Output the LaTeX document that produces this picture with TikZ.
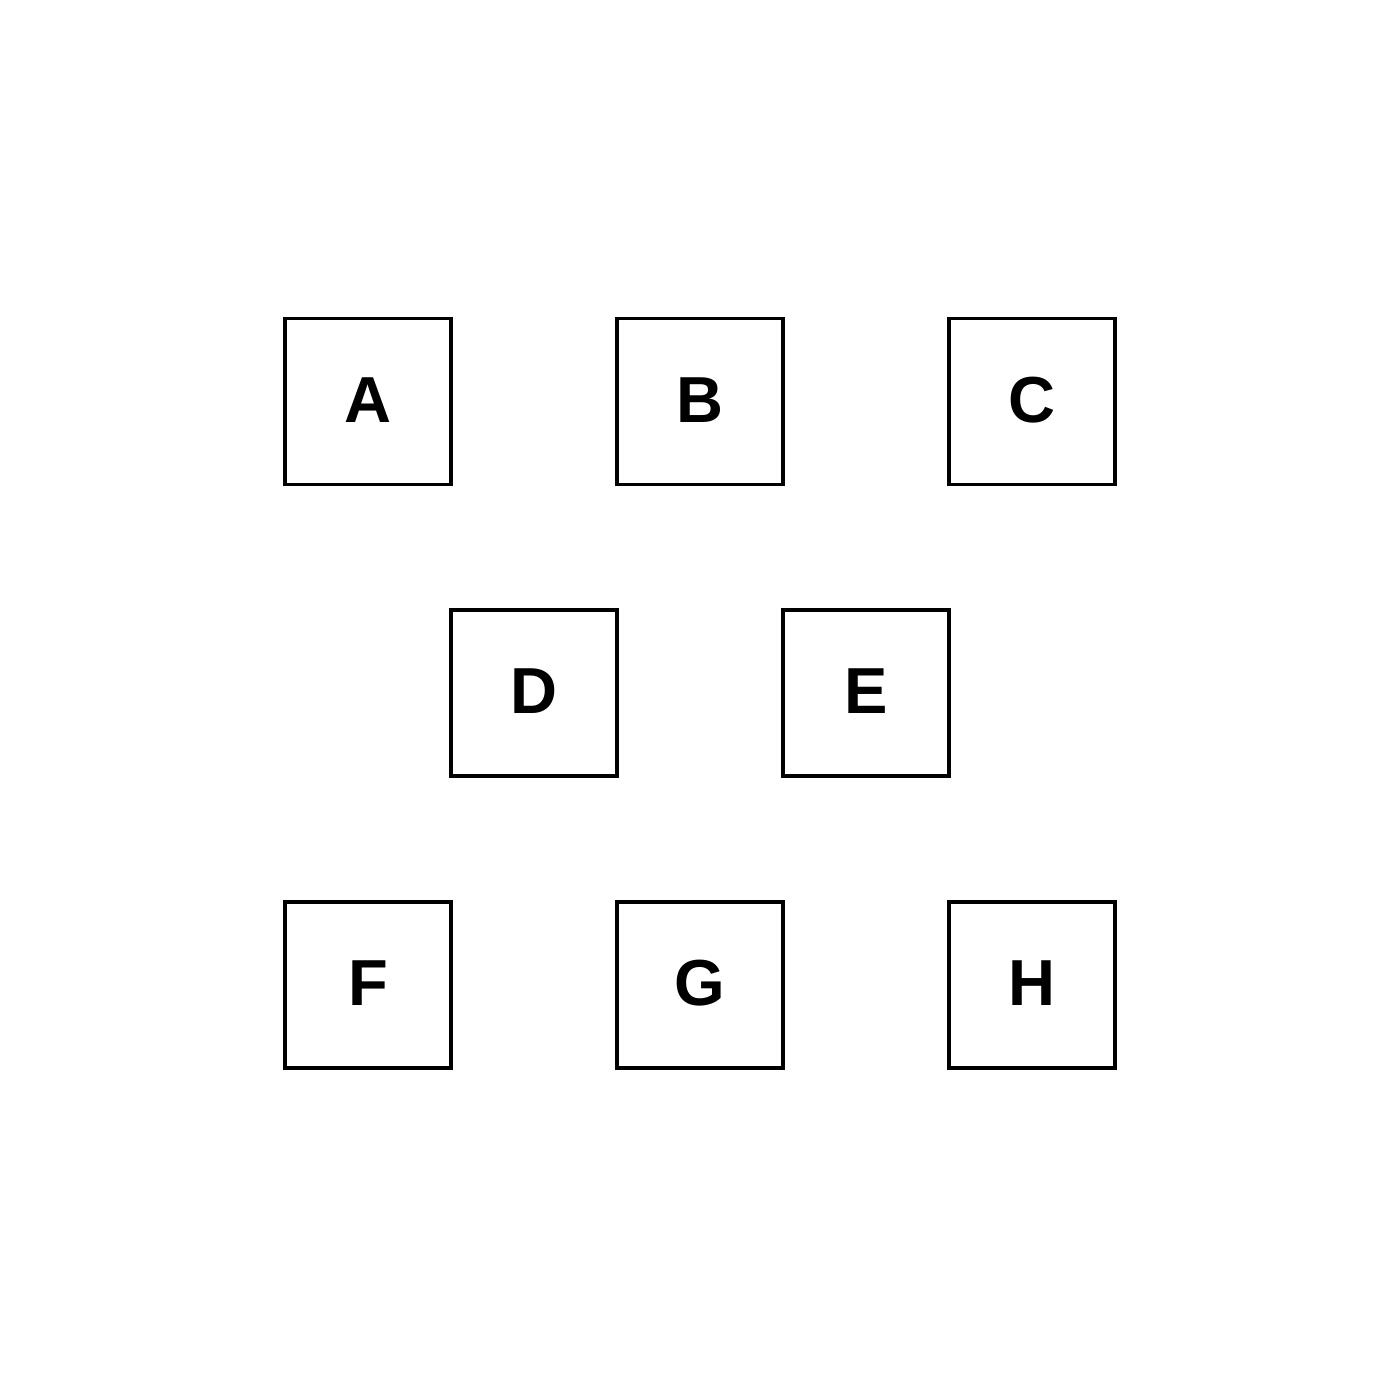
\documentclass[tikz,border=0pt]{standalone}
\usepackage{fontspec}
\setmainfont{Liberation Sans}
\begin{document}
\begin{tikzpicture}[x=0.01cm,y=-0.01cm,
  boxnode/.style={draw=black, line width=1.1pt, minimum width=1.66cm, minimum height=1.66cm, inner sep=0pt, text height=0.48cm, text depth=0.07cm, font=\fontsize{18.5}{22}\selectfont\bfseries}]
\useasboundingbox[fill=white] (0,0) rectangle (1400,1400);
\node[boxnode] (A) at (368,401.5) {A};
\node[boxnode] (B) at (700,401.5) {B};
\node[boxnode] (C) at (1032,401.5) {C};
\node[boxnode] (D) at (534,693) {D};
\node[boxnode] (E) at (866,693) {E};
\node[boxnode] (F) at (368,985) {F};
\node[boxnode] (G) at (700,985) {G};
\node[boxnode] (H) at (1032,985) {H};
\end{tikzpicture}
\end{document}
